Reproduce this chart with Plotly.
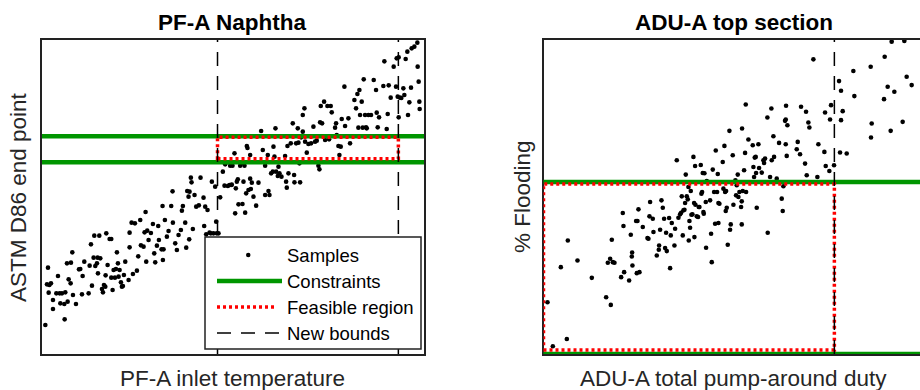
import plotly.graph_objects as go

# ---------------- data (arbitrary units) ----------------
left_x = [135, 143, 140, 147, 152, 145, 158, 158, 173, 168, 178, 185, 180, 192, 195, 193, 202, 205, 211, 200,
          212, 216, 218, 227, 236, 240, 245, 247, 252, 265, 268, 272, 275, 280, 282, 285, 290, 292, 293, 297,
          300, 305, 308, 311, 315, 318, 316, 322, 328, 333, 333, 337, 340, 344, 347, 350, 353, 355, 358, 362,
          365, 368, 371, 375, 385, 388, 388, 394, 398, 404, 410, 414, 420, 422, 430, 433, 436, 438, 441, 445,
          452, 458, 462, 465, 470, 474, 476, 484, 487, 488, 490, 494, 500, 505, 513, 517, 518, 525, 530, 535,
          542, 545, 548, 555, 558, 561, 565, 567, 568, 572, 574, 578, 583, 588, 596, 601, 610, 612, 615, 618,
          622, 628, 632, 635, 640, 645, 648, 650, 655, 660, 668, 673, 675, 683, 688, 690, 693, 697, 703, 705,
          707, 710, 713, 715, 720, 724, 727, 730, 733, 735, 738, 740, 742, 745, 750, 752, 755, 760, 768, 775,
          783, 788, 795, 795, 803, 805, 808, 813, 818, 820, 823, 826, 828, 833, 835, 838, 844, 855, 858, 860,
          862, 865, 872, 878, 882, 883, 888, 893, 895, 898, 900, 903, 908, 908, 913, 915, 920, 925, 933, 940,
          945, 950, 955, 958, 960, 962, 966, 972, 975, 982, 987, 992, 995, 1005, 1008, 1010, 1015, 1018, 1022, 1025,
          1033, 1035, 1045, 1050, 1063, 1068, 1072, 1075, 1078, 1080, 1085, 1088, 1091, 1095, 1100, 1105, 1113, 1121, 1128, 1130,
          1133, 1137, 1150, 1153, 1160, 1163, 1166, 1172, 1181, 1188, 1190, 1193, 1196, 1196, 1200, 1210, 1213, 1217, 1222, 1224,
          1228, 1233, 1235, 1243, 1252, 1253, 1256, 1258, 1259, 695, 750, 1098, 1204]
left_y = [87, 259, 209, 207, 212, 184, 162, 135, 234, 182, 182, 182, 152, 150, 185, 104, 157, 224, 212, 272,
          274, 305, 177, 150, 254, 255, 179, 234, 277, 182, 265, 329, 205, 289, 355, 264, 272, 289, 242, 355,
          287, 195, 185, 207, 202, 362, 236, 267, 345, 345, 229, 192, 252, 229, 255, 305, 272, 232, 252, 215,
          202, 204, 237, 277, 222, 320, 364, 394, 240, 392, 250, 293, 402, 326, 322, 365, 426, 277, 370, 342,
          363, 390, 302, 275, 325, 384, 342, 314, 444, 282, 314, 402, 352, 369, 444, 488, 394, 332, 312, 357,
          372, 430, 444, 394, 319, 489, 472, 344, 487, 529, 515, 375, 477, 442, 446, 529, 469, 384, 442, 359,
          432, 364, 362, 517, 362, 502, 397, 362, 362, 470, 547, 505, 569, 504, 507, 565, 507, 565, 602, 422,
          497, 517, 524, 449, 565, 572, 450, 517, 565, 424, 482, 624, 618, 492, 597, 495, 514, 472, 445, 514,
          669, 612, 565, 477, 597, 489, 477, 542, 547, 622, 592, 677, 547, 534, 562, 542, 532, 594, 517, 499,
          624, 542, 632, 692, 537, 515, 632, 677, 634, 572, 515, 650, 667, 717, 737, 637, 604, 630, 632, 682,
          637, 640, 565, 554, 695, 744, 692, 757, 642, 744, 644, 744, 725, 679, 692, 657, 624, 597, 622, 705,
          802, 684, 707, 632, 762, 737, 780, 679, 792, 717, 757, 679, 824, 717, 677, 717, 717, 822, 792, 724,
          680, 710, 804, 878, 675, 720, 806, 769, 862, 802, 887, 772, 710, 890, 769, 797, 777, 885, 907, 717,
          755, 799, 917, 922, 934, 862, 817, 757, 735, 508, 526, 680, 768]

right_x = [262, 278, 320, 302, 323, 352, 395, 438, 452, 443, 450, 455, 458, 463, 483, 492, 507, 517, 515, 516,
           530, 538, 512, 488, 490, 535, 528, 532, 548, 562, 565, 568, 570, 578, 580, 590, 597, 596, 600, 604,
           608, 612, 615, 620, 618, 630, 632, 627, 635, 643, 645, 650, 655, 660, 663, 665, 668, 670, 673, 675,
           677, 680, 683, 685, 686, 688, 690, 692, 694, 697, 700, 702, 705, 703, 706, 710, 714, 716, 718, 722,
           724, 726, 728, 730, 731, 733, 737, 738, 740, 750, 753, 755, 758, 762, 765, 767, 771, 773, 775, 778,
           775, 788, 790, 793, 795, 797, 798, 800, 803, 808, 810, 812, 818, 820, 826, 828, 830, 833, 835, 838,
           843, 845, 846, 848, 845, 852, 855, 858, 857, 865, 878, 880, 882, 884, 887, 888, 890, 895, 897, 905,
           910, 912, 915, 922, 923, 930, 934, 935, 940, 942, 950, 957, 965, 968, 970, 975, 977, 978, 977, 980,
           982, 1013, 1010, 1020, 1023, 1035, 1038, 1045, 1048, 1040, 1060, 1075, 1072, 1095, 1093, 1097, 1108, 1110, 1113, 1122,
           1137, 1140, 1143, 1143, 1148, 1160, 1180, 1183, 1232, 1235, 1233, 1272, 1274, 1283, 1292, 1295, 1303, 1328, 1333, 1340,
           1355]
right_y = [155, 23, 45, 260, 340, 280, 228, 170, 147, 273, 285, 342, 275, 273, 230, 245, 220, 265, 292, 304,
           242, 245, 357, 422, 383, 433, 398, 398, 380, 347, 345, 412, 455, 405, 365, 295, 325, 312, 372, 460,
           438, 405, 317, 308, 363, 257, 355, 407, 392, 325, 375, 580, 408, 418, 423, 472, 355, 430, 432, 452,
           537, 472, 463, 500, 340, 398, 378, 488, 417, 418, 590, 452, 563, 350, 447, 412, 410, 440, 440, 566,
           480, 485, 542, 425, 420, 541, 455, 318, 518, 460, 360, 275, 552, 485, 390, 609, 485, 539, 452, 450,
           392, 575, 495, 623, 485, 428, 488, 438, 327, 668, 372, 388, 595, 447, 520, 475, 505, 537, 470, 485,
           440, 457, 675, 488, 388, 550, 602, 485, 747, 642, 625, 560, 530, 588, 590, 542, 438, 628, 557, 543,
           580, 572, 585, 708, 363, 530, 735, 580, 652, 590, 525, 632, 465, 428, 502, 698, 702, 743, 628, 593,
           685, 635, 613, 598, 740, 570, 725, 693, 678, 535, 882, 628, 530, 723, 605, 563, 548, 702, 745, 565,
           817, 603, 788, 700, 727, 600, 847, 772, 860, 690, 648, 763, 890, 800, 668, 935, 785, 695, 937, 830,
           805]

left_constraints = [575, 653]
left_feasible_x = [652, 1195]
left_feasible_y = [586, 650]
left_bounds = [652, 1195]

right_constraints = [0, 515]
right_feasible_x = [250, 1123]
right_feasible_y = [12, 509]
right_bounds = [1123]

titles = ["PF-A Naphtha", "ADU-A top section"]
xlabels = ["PF-A inlet temperature", "ADU-A total pump-around duty"]
ylabels = ["ASTM D86 end point", "% Flooding"]
legend_labels = ["Samples", "Constraints", "Feasible region", "New bounds"]

# ---------------- styling ----------------
W, H = 920, 390
FONT = "Liberation Sans, Arial, Helvetica, sans-serif"
GREEN = "rgb(0,150,0)"
RED = "rgb(255,0,0)"
AXC = "#222222"
DASH = "14px,10px"
DOT = "3px,3px"
RED_W = 3.5
MSIZE = 4.6


def px(x):
    return x / W


def py(y):
    return 1 - y / H


fig = go.Figure()
fig.add_trace(go.Scatter(x=left_x, y=left_y, mode="markers", xaxis="x", yaxis="y",
                         marker=dict(size=MSIZE, color="black", line=dict(width=0)),
                         name=legend_labels[0], showlegend=False, hoverinfo="skip"))
fig.add_trace(go.Scatter(x=right_x, y=right_y, mode="markers", xaxis="x2", yaxis="y2",
                         marker=dict(size=MSIZE, color="black", line=dict(width=0)),
                         name=legend_labels[0], showlegend=False, hoverinfo="skip"))

shapes = []
# constraints
for c in left_constraints:
    shapes.append(dict(type="line", xref="x domain", yref="y", x0=0, x1=1, y0=c, y1=c,
                       line=dict(color=GREEN, width=4.5), layer="above"))
for c in right_constraints:
    shapes.append(dict(type="line", xref="x2 domain", yref="y2", x0=0, x1=1, y0=c, y1=c,
                       line=dict(color=GREEN, width=4.5), layer="above"))
# feasible regions
shapes.append(dict(type="rect", xref="x", yref="y",
                   x0=left_feasible_x[0], x1=left_feasible_x[1],
                   y0=left_feasible_y[0], y1=left_feasible_y[1],
                   line=dict(color=RED, width=RED_W, dash=DOT), layer="above"))
shapes.append(dict(type="rect", xref="x2", yref="y2",
                   x0=right_feasible_x[0], x1=right_feasible_x[1],
                   y0=right_feasible_y[0], y1=right_feasible_y[1],
                   line=dict(color=RED, width=RED_W, dash=DOT), layer="above"))
# new bounds
for b in left_bounds:
    shapes.append(dict(type="line", xref="x", yref="y domain", x0=b, x1=b, y0=0, y1=1,
                       line=dict(color="black", width=1.5, dash=DASH), layer="above"))
for b in right_bounds:
    shapes.append(dict(type="line", xref="x2", yref="y2 domain", x0=b, x1=b, y0=0, y1=1,
                       line=dict(color="black", width=1.5, dash=DASH), layer="above"))

# legend (left panel)
shapes.append(dict(type="rect", xref="paper", yref="paper", x0=px(205), x1=px(421), y0=py(349), y1=py(237),
                   fillcolor="white", line=dict(color=AXC, width=1.5), layer="above"))
shapes.append(dict(type="circle", xref="paper", yref="paper", x0=px(246), x1=px(250.5), y0=py(257.2), y1=py(252.8),
                   fillcolor="black", line=dict(width=0), layer="above"))
shapes.append(dict(type="line", xref="paper", yref="paper", x0=px(217), x1=px(282), y0=py(281), y1=py(281),
                   line=dict(color=GREEN, width=4.5), layer="above"))
shapes.append(dict(type="line", xref="paper", yref="paper", x0=px(217), x1=px(277), y0=py(307), y1=py(307),
                   line=dict(color=RED, width=RED_W, dash=DOT), layer="above"))
shapes.append(dict(type="line", xref="paper", yref="paper", x0=px(217), x1=px(280), y0=py(333), y1=py(333),
                   line=dict(color="black", width=1.5, dash=DASH), layer="above"))

annotations = []
for cx, title in zip([232, 734], titles):
    annotations.append(dict(text="<b>%s</b>" % title, x=px(cx), y=py(22), xref="paper", yref="paper",
                            xanchor="center", yanchor="middle", showarrow=False,
                            font=dict(family=FONT, size=22.5, color="black")))
for cx, lab in zip([232, 733], xlabels):
    annotations.append(dict(text=lab, x=px(cx), y=py(378), xref="paper", yref="paper",
                            xanchor="center", yanchor="middle", showarrow=False,
                            font=dict(family=FONT, size=22.5, color="#262626")))
for cx, lab in zip([18, 522], ylabels):
    annotations.append(dict(text=lab, x=px(cx), y=py(197), xref="paper", yref="paper",
                            xanchor="center", yanchor="middle", showarrow=False, textangle=-90,
                            font=dict(family=FONT, size=22.5, color="#262626")))
for lab, yy in zip(legend_labels, [255, 281, 307, 333]):
    annotations.append(dict(text=lab, x=px(285), y=py(yy), xref="paper", yref="paper",
                            xanchor="left", yanchor="middle", showarrow=False,
                            font=dict(family=FONT, size=18.5, color="black")))

axis_common = dict(showgrid=False, zeroline=False, showticklabels=False, ticks="",
                   showline=True, linecolor=AXC, linewidth=2, fixedrange=True)
ydom = [py(354), py(40)]

fig.update_layout(
    width=W, height=H,
    margin=dict(l=0, r=0, t=0, b=0),
    paper_bgcolor="white", plot_bgcolor="white",
    showlegend=False,
    xaxis=dict(domain=[px(42), px(424)], range=[125, 1272], mirror=True, anchor="y", **axis_common),
    yaxis=dict(domain=ydom, range=[0, 942], mirror=True, anchor="x", **axis_common),
    xaxis2=dict(domain=[px(543.5), 1.0], range=[250, 1380], mirror=True, anchor="y2", **axis_common),
    yaxis2=dict(domain=ydom, range=[0, 940], mirror=False, anchor="x2", **axis_common),
    shapes=shapes,
    annotations=annotations,
)

fig.write_html("out.html", config={"displayModeBar": False},
               post_script="document.body.style.margin='0';document.body.style.overflow='hidden';")
